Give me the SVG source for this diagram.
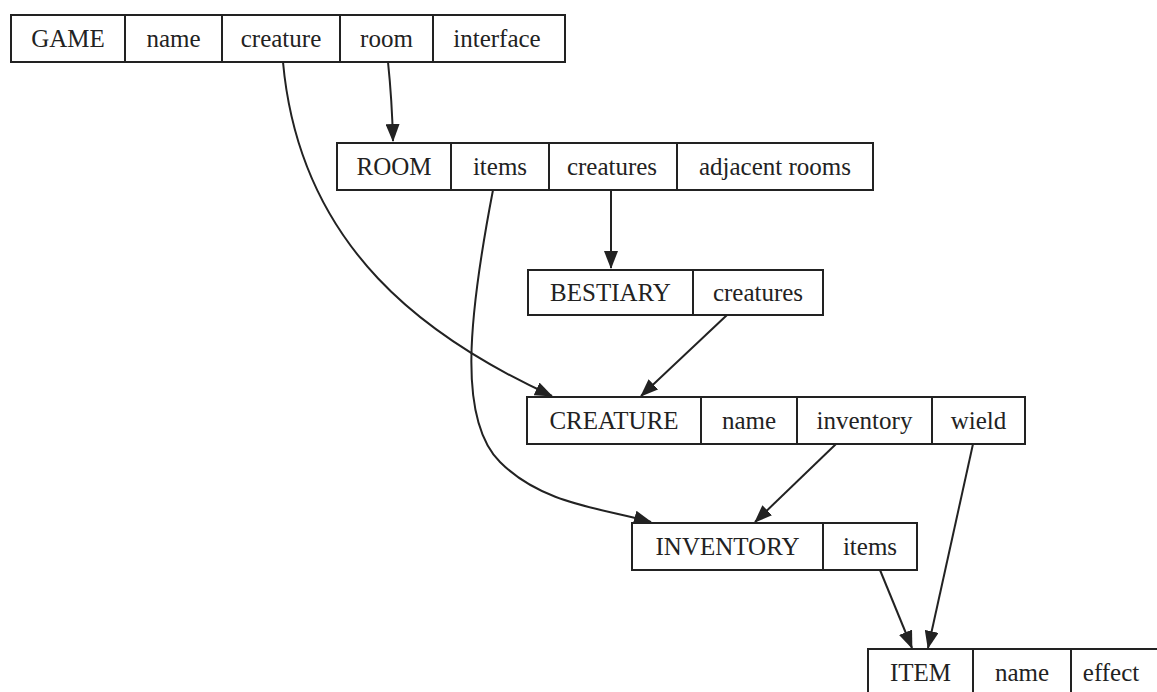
<svg xmlns="http://www.w3.org/2000/svg" width="1157" height="692" viewBox="0 0 1157 692">
<style>
.box{fill:#fff;stroke:#222;stroke-width:2}
.div{stroke:#222;stroke-width:2}
.t{font-family:"Liberation Serif","Times New Roman",serif;font-size:25px;fill:#222;text-anchor:middle}
.c{fill:none;stroke:#222;stroke-width:2}
</style>
<defs>
<marker id="ah" markerUnits="userSpaceOnUse" markerWidth="18" markerHeight="14" refX="17" refY="7" orient="auto">
<path d="M0,0 L18,7 L0,14 Z" fill="#222"/>
</marker>
</defs>
<rect width="1157" height="692" fill="#fff"/>
<g id="connectors">
<path class="c" d="M388,62 Q392,100 393,141" marker-end="url(#ah)"/>
<path class="c" d="M283,62 C300,250 430,340 552,396" marker-end="url(#ah)"/>
<path class="c" d="M493,190 C468,320 458,420 500,462 S600,508 651,522" marker-end="url(#ah)"/>
<path class="c" d="M611,190 L611,268" marker-end="url(#ah)"/>
<path class="c" d="M727,315 L641,396" marker-end="url(#ah)"/>
<path class="c" d="M836,444 L755,522" marker-end="url(#ah)"/>
<path class="c" d="M973,444 L928,648" marker-end="url(#ah)"/>
<path class="c" d="M880,570 L912,648" marker-end="url(#ah)"/>
</g>
<g id="game">
<rect class="box" x="11" y="15" width="554" height="47"/>
<line class="div" x1="125" y1="15" x2="125" y2="62"/>
<line class="div" x1="222" y1="15" x2="222" y2="62"/>
<line class="div" x1="340" y1="15" x2="340" y2="62"/>
<line class="div" x1="433" y1="15" x2="433" y2="62"/>
<text class="t" x="68" y="47">GAME</text>
<text class="t" x="173.5" y="47">name</text>
<text class="t" x="281" y="47">creature</text>
<text class="t" x="386.5" y="47">room</text>
<text class="t" x="497" y="47">interface</text>
</g>
<g id="room">
<rect class="box" x="337" y="143" width="536" height="47"/>
<line class="div" x1="451" y1="143" x2="451" y2="190"/>
<line class="div" x1="549" y1="143" x2="549" y2="190"/>
<line class="div" x1="677" y1="143" x2="677" y2="190"/>
<text class="t" x="394" y="175">ROOM</text>
<text class="t" x="500" y="175">items</text>
<text class="t" x="612" y="175">creatures</text>
<text class="t" x="775" y="175">adjacent rooms</text>
</g>
<g id="bestiary">
<rect class="box" x="528" y="270" width="295" height="45"/>
<line class="div" x1="693" y1="270" x2="693" y2="315"/>
<text class="t" x="610.5" y="301">BESTIARY</text>
<text class="t" x="758" y="301">creatures</text>
</g>
<g id="creature">
<rect class="box" x="527" y="397" width="498" height="47"/>
<line class="div" x1="701" y1="397" x2="701" y2="444"/>
<line class="div" x1="797" y1="397" x2="797" y2="444"/>
<line class="div" x1="932" y1="397" x2="932" y2="444"/>
<text class="t" x="614" y="429">CREATURE</text>
<text class="t" x="749" y="429">name</text>
<text class="t" x="864.5" y="429">inventory</text>
<text class="t" x="978.5" y="429">wield</text>
</g>
<g id="inventory">
<rect class="box" x="632" y="523" width="285" height="47"/>
<line class="div" x1="823" y1="523" x2="823" y2="570"/>
<text class="t" x="727.5" y="555">INVENTORY</text>
<text class="t" x="870" y="555">items</text>
</g>
<g id="item">
<rect class="box" x="868" y="649" width="300" height="50"/>
<line class="div" x1="973" y1="649" x2="973" y2="692"/>
<line class="div" x1="1071" y1="649" x2="1071" y2="692"/>
<text class="t" x="920.5" y="681">ITEM</text>
<text class="t" x="1022" y="681">name</text>
<text class="t" x="1111" y="681">effect</text>
</g>
</svg>
